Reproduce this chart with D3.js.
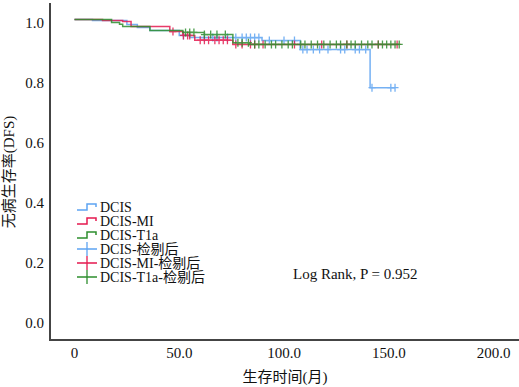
<!DOCTYPE html>
<html><head><meta charset="utf-8">
<script src="https://cdn.jsdelivr.net/npm/d3@7"></script>
<style>body{margin:0;background:#fff}svg{display:block}
text{font-family:"Times New Roman","Liberation Serif","DejaVu Serif","Noto Sans CJK SC",serif;}</style>
</head><body>
<script>
// ---- data ----
const groupNames = ["DCIS", "DCIS-MI", "DCIS-T1a"];
const censorNames = ["DCIS-检剔后", "DCIS-MI-检剔后", "DCIS-T1a-检剔后"];
const groupColors = ["#5ea4f2", "#e5194f", "#2e8e2e"];

const dcisTimes = [0, 8.6, 25, 30, 36, 50, 55, 89.5, 107.7, 141.1];
const dcisSurv  = [1.0, 0.997, 0.983, 0.973, 0.963, 0.947, 0.94, 0.93, 0.90, 0.773];
const dcisEnd = 153;
const dcisCensor = [52, 62, 66, 68, 73, 77, 80, 82, 84, 86, 88, 93, 100, 105, 109, 111, 114, 117, 121, 127, 129, 134, 136, 139, 142, 151, 153];

const miTimes = [0, 13.4, 23, 27, 45.5, 51.7, 57.4, 75.6];
const miSurv  = [1.0, 0.997, 0.993, 0.977, 0.96, 0.947, 0.931, 0.917];
const miEnd = 154;
const miCensor = [47, 52, 54, 55, 60, 62, 64, 67, 69, 71, 73, 77, 80, 84, 86, 90, 105, 118, 130, 145, 154];

const t1aTimes = [0, 17.7, 21.5, 23, 36, 51.7, 62, 75.6, 83.7];
const t1aSurv  = [1.0, 0.99, 0.984, 0.977, 0.963, 0.957, 0.95, 0.923, 0.917];
const t1aEnd = 155;
const t1aCensor = [53, 55, 57, 62, 65, 68, 72, 78, 80, 83, 86, 88, 91, 94, 96, 99, 102, 104, 108, 110, 113, 116, 119, 122, 125, 127, 130, 132, 134, 137, 140, 142, 145, 147, 149, 151, 153, 155];

const xTicks = [0, 50, 100, 150, 200];
const yTicks = [0, 0.2, 0.4, 0.6, 0.8, 1.0];
const xTitle = "生存时间(月)";
const yTitle = "无病生存率(DFS)";
const statText = "Log Rank, P = 0.952";

// ---- build ----
const series = [
  {name: groupNames[0], times: dcisTimes, surv: dcisSurv, end: dcisEnd, censor: dcisCensor, color: groupColors[0]},
  {name: groupNames[1], times: miTimes, surv: miSurv, end: miEnd, censor: miCensor, color: groupColors[1]},
  {name: groupNames[2], times: t1aTimes, surv: t1aSurv, end: t1aEnd, censor: t1aCensor, color: groupColors[2]}
];

const W = 519, H = 387;
const svg = d3.select("body").append("svg").attr("width", W).attr("height", H);

const x = d3.scaleLinear().domain([0, 200]).range([74.5, 493.5]);
const y = d3.scaleLinear().domain([0, 1]).range([320, 19.5]);

// axes lines
svg.append("line").attr("x1", 50).attr("x2", 50).attr("y1", 3).attr("y2", 341)
  .attr("stroke", "#444").attr("stroke-width", 2);
svg.append("line").attr("x1", 49).attr("x2", 519).attr("y1", 340).attr("y2", 340)
  .attr("stroke", "#444").attr("stroke-width", 2);

// tick labels
svg.append("g").selectAll("text").data(yTicks).join("text")
  .attr("x", 44).attr("y", d => y(d) + 3).attr("dy", "0.35em")
  .attr("text-anchor", "end").attr("font-size", 15).attr("fill", "#111")
  .text(d => d3.format(".1f")(d));
svg.append("g").selectAll("text").data(xTicks).join("text")
  .attr("x", d => x(d)).attr("y", 353).attr("dy", "0.35em")
  .attr("text-anchor", "middle").attr("font-size", 15).attr("fill", "#111")
  .text(d => d === 0 ? "0" : d3.format(".1f")(d));

// titles
svg.append("text").attr("x", 285).attr("y", 377).attr("dy", "0.35em").attr("text-anchor", "middle")
  .attr("font-size", 15).attr("fill", "#111").text(xTitle);
svg.append("text").attr("transform", "translate(9,172) rotate(-90)").attr("dy", "0.35em")
  .attr("text-anchor", "middle").attr("font-size", 15).attr("fill", "#111").text(yTitle);

// curves
const line = d3.line().x(d => x(d[0])).y(d => y(d[1])).curve(d3.curveStepAfter);
function survAt(s, t) {
  let v = s.surv[0];
  for (let i = 0; i < s.times.length; i++) if (s.times[i] <= t) v = s.surv[i];
  return v;
}
series.forEach(s => {
  const pts = s.times.map((t, i) => [t, s.surv[i]]);
  pts.push([s.end, s.surv[s.surv.length - 1]]);
  const g = svg.append("g").attr("opacity", 0.85);
  g.append("path").attr("d", line(pts)).attr("fill", "none")
    .attr("stroke", s.color).attr("stroke-width", 1.5);
  g.selectAll("path.c").data(s.censor).join("path").attr("class", "c")
    .attr("d", t => {
      const cx = x(t), cy = y(survAt(s, t));
      return `M${cx - 3.5},${cy}H${cx + 3.5}M${cx},${cy - 4}V${cy + 4}`;
    })
    .attr("stroke", s.color).attr("stroke-width", 1.3).attr("fill", "none");
});

// legend
const legY0 = 207, legDy = 14;
const leg = svg.append("g");
series.forEach((s, i) => {
  const cy = legY0 + i * legDy;
  leg.append("path").attr("d", `M77,${cy + 3}H87V${cy - 3}H96V${cy}`)
    .attr("fill", "none").attr("stroke", s.color).attr("stroke-width", 1.5);
  leg.append("text").attr("x", 100).attr("y", cy).attr("dy", "0.35em")
    .attr("font-size", 14).attr("fill", "#111").text(s.name);
});
series.forEach((s, i) => {
  const cy = legY0 + (i + 3) * legDy;
  leg.append("path").attr("d", `M77,${cy}H97M87,${cy - 7}V${cy + 7}`)
    .attr("fill", "none").attr("stroke", s.color).attr("stroke-width", 1.3);
  leg.append("text").attr("x", 100).attr("y", cy).attr("dy", "0.35em")
    .attr("font-size", 14).attr("fill", "#111").text(censorNames[i]);
});

// stat text
svg.append("text").attr("x", 293).attr("y", 274).attr("dy", "0.35em")
  .attr("font-size", 15).attr("fill", "#111").text(statText);
</script>
</body></html>
